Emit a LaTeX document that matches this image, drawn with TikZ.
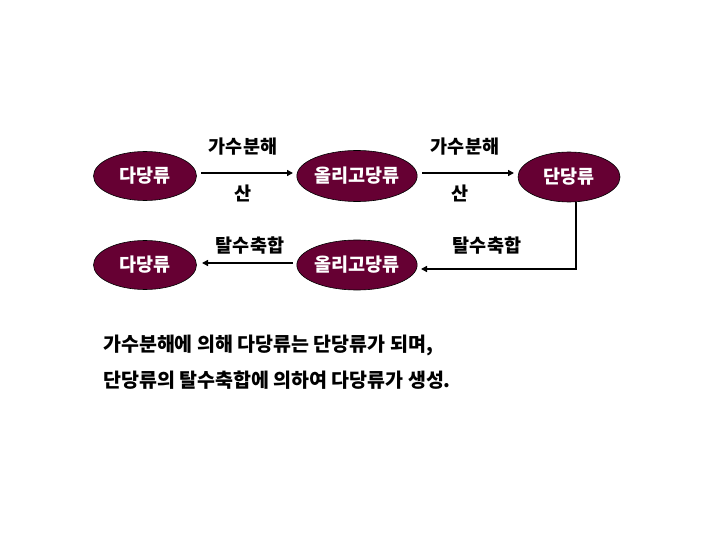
\documentclass[tikz,border=0pt]{standalone}
\usepackage{fontspec}
\setmainfont{Noto Sans CJK KR}
\usetikzlibrary{arrows.meta}
\definecolor{maroon}{RGB}{102,0,51}
\tikzset{
  sugar/.style={ellipse, draw=black, line width=0.6pt, fill=maroon, text=white, font=\fontsize{18.5}{18.5}\selectfont\bfseries, inner sep=0pt},
  lbl/.style={font=\fontsize{18.5}{18.5}\selectfont\bfseries, inner sep=0pt},
  body/.style={font=\fontsize{19.5}{19.5}\selectfont\bfseries, inner sep=0pt, anchor=west},
  conn/.style={line width=1.4pt, -{Triangle[length=6pt,width=6pt]}}
}
\usetikzlibrary{shapes.geometric}
\begin{document}
\begin{tikzpicture}[x=1pt,y=-1pt]
\useasboundingbox (0,0) rectangle (720,540);
\node[sugar, minimum width=103, minimum height=49] (p1) at (145,176) {다당류};
\node[sugar, minimum width=119, minimum height=51] (o1) at (357,176) {올리고당류};
\node[sugar, minimum width=102, minimum height=50] (m1) at (569,177) {단당류};
\node[sugar, minimum width=103, minimum height=49] (p2) at (145,265) {다당류};
\node[sugar, minimum width=119, minimum height=50] (o2) at (357,265) {올리고당류};
\coordinate (a1s) at (201,173);
\coordinate (a1e) at (293,173);
\coordinate (a2s) at (422,173);
\coordinate (a2e) at (514,173);
\draw[conn] (a1s) -- (a1e);
\draw[conn] (a2s) -- (a2e);
\node[lbl] (h1) at (243,147) {가수분해};
\node[lbl] (s1) at (243,193) {산};
\node[lbl] (h2) at (465,147) {가수분해};
\node[lbl] (s2) at (460,193) {산};
\coordinate (c1) at (576,202);
\coordinate (c2) at (576,269);
\coordinate (c3) at (421,269);
\draw[conn] (c1) -- (c2) -- (c3);
\coordinate (b1s) at (293,263);
\coordinate (b1e) at (202,263);
\draw[conn] (b1s) -- (b1e);
\node[lbl] (d1) at (250,246) {탈수축합};
\node[lbl] (d2) at (487,246) {탈수축합};
\node[body] (t1) at (103,345) {가수분해에 의해 다당류는 단당류가 되며,};
\node[body] (t2) at (103,380) {단당류의 탈수축합에 의하여 다당류가 생성.};
\end{tikzpicture}
\end{document}
